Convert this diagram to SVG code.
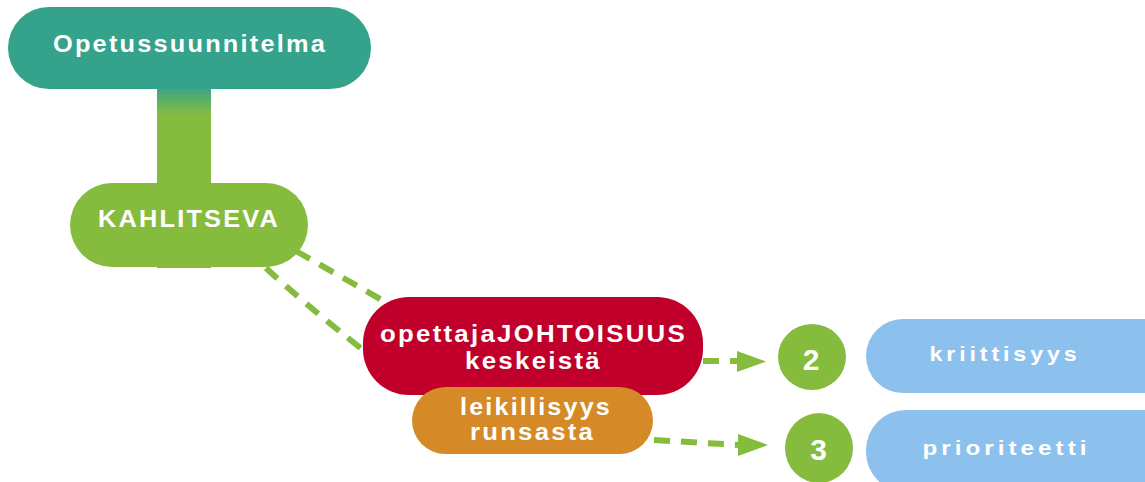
<svg xmlns="http://www.w3.org/2000/svg" width="1145" height="482" viewBox="0 0 1145 482">
<style>
.t{font-family:"Liberation Sans",Arial,sans-serif;font-weight:bold;fill:#fff;text-anchor:middle;font-size:23px;letter-spacing:2px}
.b{font-size:21px;letter-spacing:3.5px}
.num{font-size:30px;letter-spacing:0}
.dash{fill:none;stroke:#86BC3E;stroke-width:6;stroke-dasharray:16 11}
.ah{fill:#86BC3E}
</style>
<defs>
<linearGradient id="bar" x1="0" y1="0" x2="0" y2="1">
<stop offset="0" stop-color="#35A28C"/>
<stop offset="0.17" stop-color="#86BC3E"/>
<stop offset="1" stop-color="#86BC3E"/>
</linearGradient>
</defs>
<rect x="157" y="85" width="54" height="183" fill="url(#bar)"/>
<g id="connectors">
<path class="dash" d="M296,251 L382,300"/>
<path class="dash" d="M266,268 Q300,300 363,350"/>
<path class="dash" d="M703,361 L740,361"/>
<path class="ah" d="M737,351 L766,361.5 L737,372 z"/>
<path class="dash" d="M654,440 L740,445"/>
<path class="ah" d="M738,434 L768,445 L738,456 z"/>
</g>
<g id="opetussuunnitelma">
<rect x="8" y="7" width="363" height="82" rx="41" fill="#35A28C"/>
<text class="t" x="190" y="52" font-size="24" textLength="274" lengthAdjust="spacingAndGlyphs">Opetussuunnitelma</text>
</g>
<g id="kahlitseva">
<rect x="70" y="183" width="238" height="84" rx="42" fill="#86BC3E"/>
<text class="t" x="189" y="227" textLength="182" lengthAdjust="spacingAndGlyphs">KAHLITSEVA</text>
</g>
<g id="johtoisuus">
<rect x="363" y="297" width="340" height="98" rx="46" fill="#C0002A"/>
<text class="t" x="533.5" y="341.5" textLength="307" lengthAdjust="spacingAndGlyphs">opettajaJOHTOISUUS</text>
<text class="t" x="533.5" y="368.5" textLength="137" lengthAdjust="spacingAndGlyphs">keskeistä</text>
</g>
<g id="leikillisyys">
<rect x="412" y="387" width="241" height="67" rx="33.5" fill="#D58A27"/>
<text class="t" x="536" y="415" textLength="152" lengthAdjust="spacingAndGlyphs">leikillisyys</text>
<text class="t" x="532.5" y="440" textLength="125" lengthAdjust="spacingAndGlyphs">runsasta</text>
</g>
<g id="n2">
<ellipse cx="812" cy="357" rx="34" ry="33" fill="#86BC3E"/>
<text class="t num" x="811" y="370">2</text>
</g>
<g id="n3">
<ellipse cx="819" cy="448" rx="34" ry="35" fill="#86BC3E"/>
<text class="t num" x="818.5" y="460">3</text>
</g>
<g id="kriittisyys">
<rect x="866" y="319" width="330" height="74" rx="37" fill="#8CC1EE"/>
<text class="t b" x="1005" y="361" textLength="151" lengthAdjust="spacingAndGlyphs">kriittisyys</text>
</g>
<g id="prioriteetti">
<rect x="866" y="410" width="330" height="82" rx="40" fill="#8CC1EE"/>
<text class="t b" x="1006.5" y="455" textLength="168" lengthAdjust="spacingAndGlyphs">prioriteetti</text>
</g>
</svg>
